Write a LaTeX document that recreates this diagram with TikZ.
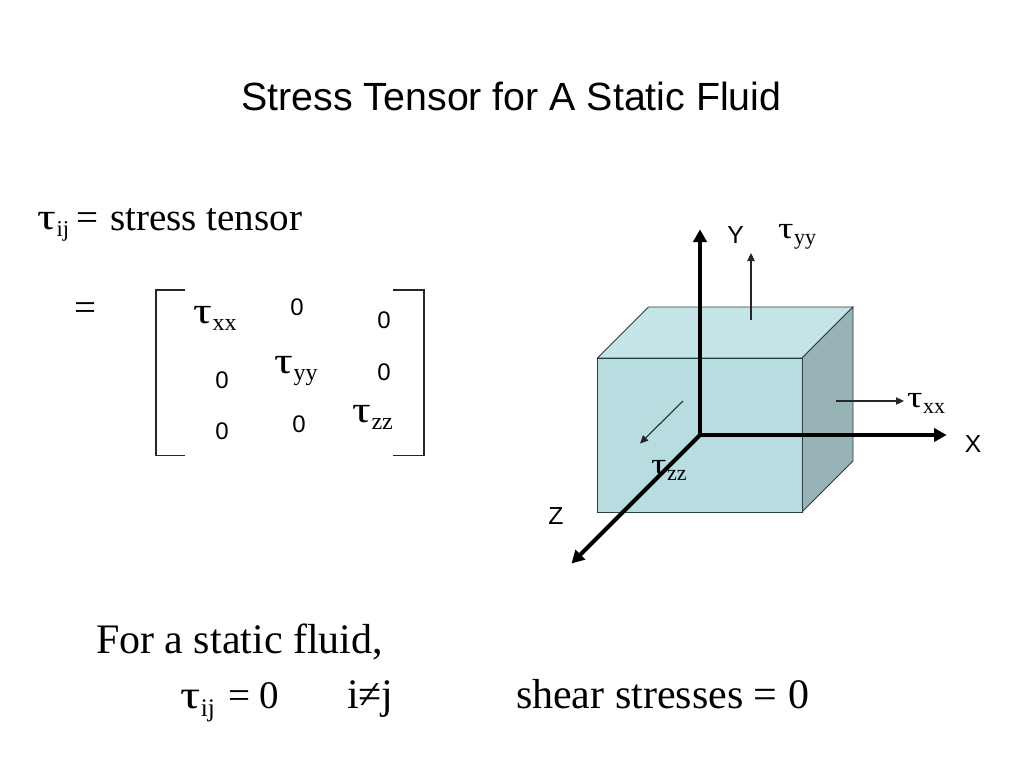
\documentclass[tikz,border=0pt]{standalone}
\usepackage{fontspec}
\usepackage{graphicx}
\setmainfont{Liberation Serif}
\newfontfamily\arialf{Liberation Sans}
\usetikzlibrary{arrows.meta}
\definecolor{frontc}{HTML}{B7DDE1}
\definecolor{topc}{HTML}{C5E4E7}
\definecolor{sidec}{HTML}{97B3B5}
\definecolor{edgec}{HTML}{2A4040}
\newcommand{\fsz}[1]{\fontsize{#1}{#1}\selectfont}
\newcommand{\tausub}[3]{{\fsz{#1}\scalebox{1.25}[1]{τ}\raisebox{-0.2em}{\kern0.02em\fsz{#2}#3}}}
\tikzset{
  x=0.75pt,y=-0.75pt,
  lab/.style={inner sep=0pt,outer sep=0pt,anchor=base west},
  zero/.style={inner sep=0pt,outer sep=0pt,font=\arialf\fsz{18pt}},
  axislabel/.style={inner sep=0pt,outer sep=0pt,font=\arialf\fsz{18.5pt}},
  face/.style={draw=edgec,line width=0.7pt,line join=miter},
  axis/.style={line width=3pt,-{Triangle[length=9.5pt,width=10pt]},shorten >=-0.5pt},
  force/.style={line width=0.8pt,black!85,-{Triangle[length=6pt,width=5.5pt]}},
  bracket/.style={line width=1.3pt,black!85},
  bigtext/.style={lab,font=\fsz{31.5pt}},
  midtext/.style={lab,font=\fsz{29.3pt}},
}
\begin{document}
\begin{tikzpicture}
\useasboundingbox (0,0) rectangle (1024,768);
\fill[white] (0,0) rectangle (1024,768);
% title
\node[inner sep=0pt,anchor=base] (title) at (511.5,110) {\arialf\fsz{29.5pt}Stress Tensor for A Static Fluid};
% left definition
\node[lab] (tij) at (37,229) {\tausub{28pt}{17pt}{ij}};
\node[midtext] (eqn) at (76,230) {=};
\node[midtext] (stress) at (110,230) {stress tensor};
\node[midtext] (eqb) at (74,320) {=};
% matrix bracket
\coordinate (la) at (185,290); \coordinate (lb) at (156,290); \coordinate (lc) at (156,455.5); \coordinate (ld) at (185,455.5);
\coordinate (ra) at (393,290); \coordinate (rb) at (424,290); \coordinate (rc) at (424,455.5); \coordinate (rd) at (393,455.5);
\draw[bracket] (la) -- (lb) -- (lc) -- (ld);
\draw[bracket] (ra) -- (rb) -- (rc) -- (rd);
% matrix entries
\node[lab] (mxx) at (193,323) {\tausub{28pt}{18pt}{xx}};
\node[lab] (myy) at (274,373) {\tausub{28pt}{18pt}{yy}};
\node[lab] (mzz) at (352,422) {\tausub{28pt}{18pt}{zz}};
\node[zero] (m12) at (297,307.5) {0};
\node[zero] (m13) at (384,320.5) {0};
\node[zero] (m21) at (222,380.5) {0};
\node[zero] (m23) at (384,372) {0};
\node[zero] (m31) at (222,431.5) {0};
\node[zero] (m32) at (299,424) {0};
% cube
\coordinate (fa) at (597.5,358); \coordinate (fb) at (802,358); \coordinate (fc) at (802,512); \coordinate (fd) at (597.5,512);
\coordinate (ba) at (648.5,307); \coordinate (bb) at (853,307); \coordinate (bc) at (853,461);
\draw[face,fill=topc] (fa) -- (ba) -- (bb) -- (fb) -- cycle;
\draw[face,fill=sidec] (fb) -- (bb) -- (bc) -- (fc) -- cycle;
\draw[face,fill=frontc] (fa) -- (fb) -- (fc) -- (fd) -- cycle;
% axes
\coordinate (o) at (700,435); \coordinate (ytip) at (700,230); \coordinate (xtip) at (946,435); \coordinate (ztip) at (572,563);
\draw[axis] (o) -- (ytip);
\draw[axis] (o) -- (xtip);
\draw[axis] (o) -- (ztip);
\node[axislabel] (ylab) at (735.5,235) {Y};
\node[axislabel] (xlab) at (973,444) {X};
\node[axislabel] (zlab) at (556,516) {Z};
% stress arrows
\coordinate (ya) at (751,320); \coordinate (yb) at (751,253);
\coordinate (xa) at (836,401); \coordinate (xb) at (904,401);
\coordinate (za) at (683,401); \coordinate (zb) at (640,443.5);
\draw[force] (ya) -- (yb);
\draw[force] (xa) -- (xb);
\draw[force] (za) -- (zb);
\node[lab] (tyy) at (778,238) {\tausub{23pt}{16.5pt}{yy}};
\node[lab] (txx) at (907,407) {\tausub{23pt}{16.5pt}{xx}};
\node[lab] (tzz) at (651,474) {\tausub{23pt}{16.5pt}{zz}};
% bottom text
\node[bigtext] (fora) at (96,653) {For a static fluid,};
\node[lab] (tijb) at (180,708) {\tausub{30pt}{19pt}{ij}};
\node[lab,font=\fsz{29.3pt}] (eq0) at (228,708) {= 0};
\node[bigtext] (inej) at (347,708) {i≠j};
\node[bigtext] (shear) at (516,708) {shear stresses = 0};
\end{tikzpicture}
\end{document}
